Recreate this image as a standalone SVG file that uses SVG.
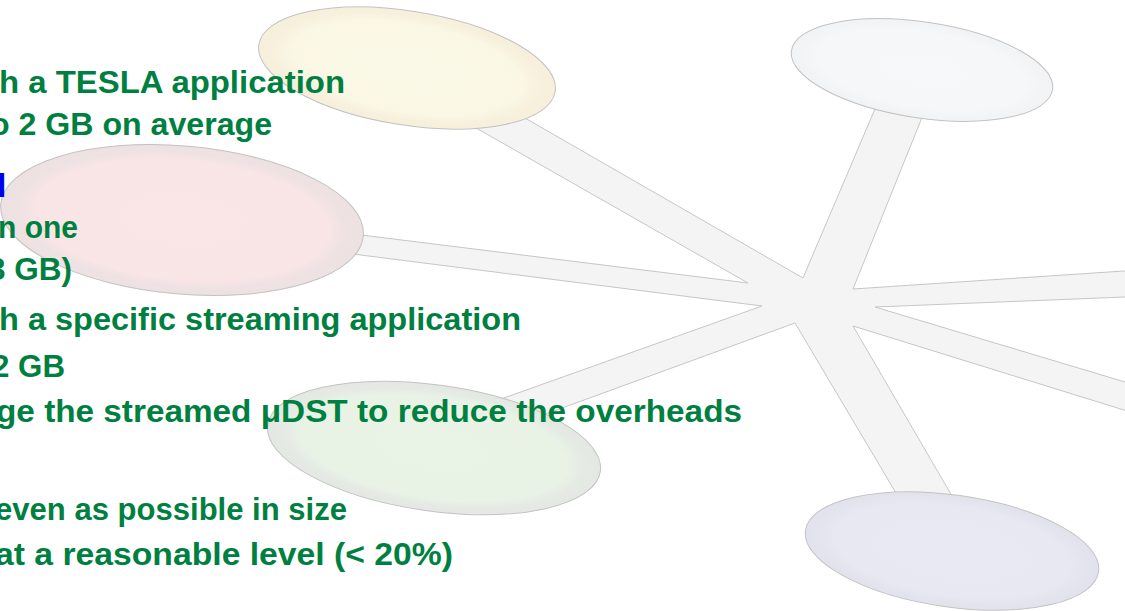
<svg xmlns="http://www.w3.org/2000/svg" width="1125" height="611" viewBox="0 0 1125 611">
  <defs>
    <style>
      .spoke { fill: #f4f4f4; stroke: #c6c6c6; stroke-width: 1; stroke-linejoin: miter; }
      .node { stroke: #c2c2c2; stroke-width: 1; }
      .t { font-family: "Liberation Sans", Arial, sans-serif; font-weight: bold; font-size: 32px; fill: #008040; }
      .h { font-family: "Liberation Sans", Arial, sans-serif; font-weight: bold; font-size: 34px; fill: #0000ee; }
    </style>
    <radialGradient id="gYellow" cx="0.5" cy="0.5" r="0.5">
      <stop offset="0" stop-color="#faf8e6"/>
      <stop offset="0.78" stop-color="#faf7e5"/>
      <stop offset="0.9" stop-color="#f7f0dc"/>
      <stop offset="1" stop-color="#f6efdb"/>
    </radialGradient>
    <radialGradient id="gPink" cx="0.5" cy="0.5" r="0.5">
      <stop offset="0" stop-color="#fbe6e7"/>
      <stop offset="0.8" stop-color="#fae5e6"/>
      <stop offset="0.9" stop-color="#efe2e3"/>
      <stop offset="1" stop-color="#eee1e1"/>
    </radialGradient>
    <radialGradient id="gGreen" cx="0.5" cy="0.5" r="0.5">
      <stop offset="0" stop-color="#e9f4e7"/>
      <stop offset="0.8" stop-color="#e8f3e6"/>
      <stop offset="0.9" stop-color="#e5eae4"/>
      <stop offset="1" stop-color="#e4e8e3"/>
    </radialGradient>
    <radialGradient id="gGrey" cx="0.5" cy="0.5" r="0.5">
      <stop offset="0" stop-color="#f7f8f9"/>
      <stop offset="0.8" stop-color="#f6f7f8"/>
      <stop offset="0.9" stop-color="#f3f4f6"/>
      <stop offset="1" stop-color="#f2f3f5"/>
    </radialGradient>
    <radialGradient id="gLav" cx="0.5" cy="0.5" r="0.5">
      <stop offset="0" stop-color="#e9e9f4"/>
      <stop offset="0.8" stop-color="#e8e8f3"/>
      <stop offset="0.9" stop-color="#e4e4ee"/>
      <stop offset="1" stop-color="#e2e2ec"/>
    </radialGradient>
  </defs>

  <rect width="1125" height="611" fill="#ffffff"/>

  <!-- hub and spokes drawn as one star outline -->
  <g id="connectors">
    <path class="spoke" d="M510,109.4 L803,278 L883,90 L929,100 L853,289 L1130,270.6 L1130,296.8 L875,307 L1130,383.5 L1130,411.9 L853,326 L966,520 L912,520 L795,323 L500,430.7 L480,406.5 L762,306 L300,247.3 L300,227.4 L748,283 L460,118.8 Z"/>
  </g>

  <g id="node-yellow">
    <ellipse class="node" cx="407" cy="68" rx="150" ry="57" transform="rotate(9 407 68)" fill="url(#gYellow)"/>
  </g>
  <g id="node-pink">
    <ellipse class="node" cx="182" cy="220" rx="182" ry="74" transform="rotate(5 182 220)" fill="url(#gPink)"/>
  </g>
  <g id="node-green">
    <ellipse class="node" cx="434" cy="448" rx="168" ry="63" transform="rotate(8 434 448)" fill="url(#gGreen)"/>
  </g>
  <g id="node-grey">
    <ellipse class="node" cx="922" cy="70" rx="132" ry="48" transform="rotate(8.5 922 70)" fill="url(#gGrey)"/>
  </g>
  <g id="node-lavender">
    <ellipse class="node" cx="952" cy="551" rx="148" ry="56" transform="rotate(8 952 551)" fill="url(#gLav)"/>
  </g>

  <g id="text">
    <text class="t" x="-1" y="93" textLength="346" lengthAdjust="spacingAndGlyphs">h a TESLA application</text>
    <text class="t" x="-10" y="135" textLength="282" lengthAdjust="spacingAndGlyphs">o 2 GB on average</text>
    <text class="h" x="-3" y="197">l</text>
    <text class="t" x="-2" y="238" textLength="80" lengthAdjust="spacingAndGlyphs">n one</text>
    <text class="t" x="-12" y="280" textLength="84" lengthAdjust="spacingAndGlyphs">3 GB)</text>
    <text class="t" x="-1" y="330" textLength="522" lengthAdjust="spacingAndGlyphs">h a specific streaming application</text>
    <text class="t" x="-8" y="377" textLength="73" lengthAdjust="spacingAndGlyphs">2 GB</text>
    <text class="t" x="-4" y="422" textLength="746" lengthAdjust="spacingAndGlyphs">ge the streamed μDST to reduce the overheads</text>
    <text class="t" x="-5" y="520" textLength="352" lengthAdjust="spacingAndGlyphs">even as possible in size</text>
    <text class="t" x="-5" y="565" textLength="458" lengthAdjust="spacingAndGlyphs">at a reasonable level (&lt; 20%)</text>
  </g>
</svg>
